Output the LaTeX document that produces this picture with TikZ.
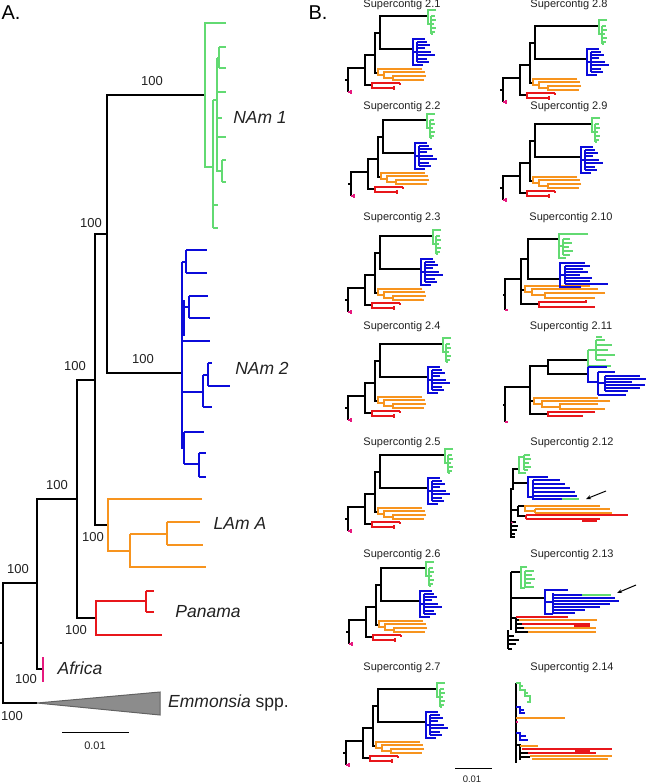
\documentclass[tikz,border=0pt]{standalone}
\usepackage{fontspec}
\setmainfont{Liberation Sans}
\usetikzlibrary{arrows.meta}
\definecolor{cgreen}{HTML}{62DA72}
\definecolor{cblue}{HTML}{0B0BDA}
\definecolor{corange}{HTML}{F7941E}
\definecolor{cred}{HTML}{E8161B}
\definecolor{cpink}{HTML}{E6197E}
\definecolor{ctri}{HTML}{8C8C8C}
\definecolor{ctxt}{HTML}{222222}
\tikzset{
 ak/.style={draw=black,line width=2pt},
 ag/.style={draw=cgreen,line width=1.8pt},
 ab/.style={draw=cblue,line width=1.8pt},
 ao/.style={draw=corange,line width=1.8pt},
 ar/.style={draw=cred,line width=1.8pt},
 ap/.style={draw=cpink,line width=1.8pt},
 sk/.style={draw=black,line width=1.2pt},
 sg/.style={draw=cgreen,line width=1.1pt},
 sb/.style={draw=cblue,line width=1.1pt},
 so/.style={draw=corange,line width=1.1pt},
 sr/.style={draw=cred,line width=1.1pt},
 spk/.style={draw=cpink,line width=1.1pt},
 bs/.style={inner sep=0pt,text=ctxt,font=\fontsize{13}{13}\selectfont},
 clade/.style={inner sep=0pt,text=ctxt,font=\fontsize{17.5}{17.5}\selectfont\itshape},
 ttl/.style={inner sep=0pt,text=ctxt,font=\fontsize{11}{11}\selectfont},
 panel/.style={inner sep=0pt,text=black,font=\fontsize{20}{20}\selectfont},
 arr/.style={draw=black,line width=1pt,-{Stealth[length=5pt,width=4pt]}},
}
\newcommand{\stree}[4]{%
\begin{scope}[shift={(#1,#2)}]
\draw[sk] (-3,12)--(0,12);
\draw[sk] (17,0)--(0,0)--(0,24);
\draw[spk] (0,24)--(3,24) (3,22)--(3,26);
\draw[sk] (27,-13)--(17,-13)--(17,17)--(24,17);
\draw[sk] (32,-35)--(27,-35)--(27,5)--(30,5);
\draw[sk] (#4,-19)--(32,-19)--(32,-52)--(#3,-52);
\draw[sr] (52,15)--(24,15)--(24,20)--(46,20) (46,18)--(46,22) (52,15)--(52,17);
\draw[so] (74,1)--(30,1)--(30,7)--(36,7) (77,4)--(36,4)--(36,10)--(45,10) (78,8)--(45,8)--(45,12)--(76,12);
\draw[sg] (#3+8,-58)--(#3,-58)--(#3,-44)--(#3+3,-44) (#3+3,-52)--(#3+3,-34);
\foreach \yy/\ll in {-52/7,-48/8,-44/6,-40/8,-36/7,-34/5} \draw[sg] (#3+3,\yy)--(#3+\ll,\yy);
\draw[sb] (#4+12,-29)--(#4,-29)--(#4,-3)--(#4+10,-3) (#4,-16)--(#4+4,-16) (#4+4,-26)--(#4+4,-6);
\foreach \yy/\ll in {-26/14,-23/17,-20/12,-16/18,-13/22,-9/14,-6/16} \draw[sb] (#4+4,\yy)--(#4+\ll,\yy);
\end{scope}}
\begin{document}
\begin{tikzpicture}[x=1pt,y=-1pt]
\useasboundingbox[fill=white] (0,0) rectangle (647,783);
% ---------------- Panel A ----------------
\node[panel] (lA) at (11,13) {A.};
\node[panel] (lB) at (318,13) {B.};
% black backbone
\draw[ak] (0,643)--(3,643);
\draw[ak] (37,703)--(3,703)--(3,583)--(37,583);
\draw[ak] (77,499)--(37,499)--(37,669)--(43,669);
\draw[ak] (95,380)--(77,380)--(77,618)--(96,618);
\draw[ak] (107,234)--(95,234)--(95,525)--(108,525);
\draw[ak] (205,95)--(107,95)--(107,373)--(182,373);
% Africa
\draw[ap] (43,657)--(43,682);
% Emmonsia
\draw[draw=ctri!70!black,fill=ctri,line width=1pt] (37,703)--(160,692)--(160,715)--cycle;
% NAm1 green
\draw[ag] (226,23)--(205,23)--(205,167)--(213,167);
\draw[ag] (213,100)--(213,228);
\draw[ag] (213,205)--(218,205) (213,228)--(218,228);
\draw[ag] (213,100)--(217,100) (217,58)--(217,171)--(222,171);
\draw[ag] (217,58)--(219,58) (219,47)--(219,68) (219,47)--(226,47) (219,68)--(226,68);
\draw[ag] (217,92)--(226,92) (217,137)--(226,137) (217,118)--(222,118);
\draw[ag] (222,160)--(222,182) (222,160)--(226,160) (222,182)--(226,182);
% NAm2 blue
\draw[ab] (182,262)--(182,448)--(184,448);
\draw[draw=cblue,line width=4pt] (183,300)--(183,336);
\draw[ab] (182,262)--(186,262) (186,250)--(186,273) (186,250)--(207,250) (186,273)--(207,273);
\draw[ab] (182,307)--(189,307) (189,296)--(189,318) (189,296)--(208,296) (189,318)--(210,318);
\draw[ab] (182,341)--(210,341);
\draw[ab] (182,392)--(203,392) (203,375)--(203,407) (203,375)--(208,375) (208,363)--(208,386);
\draw[ab] (208,363)--(212,363) (208,386)--(230,386) (203,407)--(212,407);
\draw[ab] (184,432)--(184,464) (184,432)--(204,432) (184,464)--(199,464) (199,453)--(199,477);
\draw[ab] (199,453)--(206,453) (199,477)--(206,477);
% LAm A orange
\draw[ao] (202,499)--(108,499)--(108,551)--(130,551);
\draw[ao] (130,534)--(130,567)--(206,567) (130,534)--(167,534);
\draw[ao] (167,522)--(167,545) (167,522)--(200,522) (167,545)--(203,545);
% Panama red
\draw[ar] (146,601)--(96,601)--(96,635)--(162,635);
\draw[ar] (146,591)--(146,612) (146,591)--(154,591) (146,612)--(154,612);
% labels A
\node[bs] (b1) at (152,81) {100};
\node[bs] (b2) at (143,359) {100};
\node[bs] (b3) at (91,223) {100};
\node[bs] (b4) at (75,366) {100};
\node[bs] (b5) at (93,537) {100};
\node[bs] (b6) at (57,485) {100};
\node[bs] (b7) at (76,630) {100};
\node[bs] (b8) at (18,569) {100};
\node[bs] (b9) at (26,679) {100};
\node[bs] (b10) at (12,716) {100};
\node[clade] (c1) at (260,117) {NAm 1};
\node[clade] (c2) at (262,368) {NAm 2};
\node[clade] (c3) at (240,523) {LAm A};
\node[clade] (c4) at (208,612) {Panama};
\node[clade] (c5) at (80,668) {Africa};
\node[clade,anchor=west] (c6) at (168,703) {Emmonsia\upshape\ spp.};
\draw[black,line width=1pt] (62,732)--(129,732);
\node[ttl] (sA) at (95,746) {0.01};
% ---------------- Panel B ----------------
\node[ttl] (t1) at (402,5) {Supercontig 2.1};
\node[ttl] (t2) at (402,107) {Supercontig 2.2};
\node[ttl] (t3) at (402,218) {Supercontig 2.3};
\node[ttl] (t4) at (402,327) {Supercontig 2.4};
\node[ttl] (t5) at (402,443) {Supercontig 2.5};
\node[ttl] (t6) at (402,555) {Supercontig 2.6};
\node[ttl] (t7) at (402,668) {Supercontig 2.7};
\node[ttl] (t8) at (569,5) {Supercontig 2.8};
\node[ttl] (t9) at (569,107) {Supercontig 2.9};
\node[ttl] (t10) at (571,218) {Supercontig 2.10};
\node[ttl] (t11) at (571,327) {Supercontig 2.11};
\node[ttl] (t12) at (572,443) {Supercontig 2.12};
\node[ttl] (t13) at (572,555) {Supercontig 2.13};
\node[ttl] (t14) at (572,668) {Supercontig 2.14};
\stree{348}{68}{80}{65}
\stree{351}{172}{76}{64}
\stree{348}{288}{85}{73}
\stree{348}{396}{95}{80}
\stree{348}{507}{97}{80}
\stree{349}{620}{77}{71}
\stree{346}{741}{91}{80}
\stree{503}{78}{96}{84}
\stree{503}{176}{89}{78}
% 2.10
\draw[sk] (503,295)--(505,295) (521,279)--(505,279)--(505,310);
\draw[spk] (505,310)--(508,310);
\draw[sk] (528,259)--(521,259)--(521,304)--(539,304) (521,290)--(525,290);
\draw[sk] (559,239)--(528,239)--(528,279)--(560,279);
\draw[so] (590,286)--(525,286)--(525,292)--(532,292) (598,289)--(532,289)--(532,295)--(545,295) (605,293)--(545,293)--(545,298)--(595,298);
\draw[sr] (586,302)--(539,302)--(539,307)--(595,307) (586,300)--(586,303);
\draw[sg] (588,234)--(559,234)--(559,258)--(566,258) (559,246)--(563,246) (563,239)--(563,255);
\foreach \yy/\ll in {239/570,243/572,247/569,251/573,255/570} \draw[sg] (563,\yy)--(\ll,\yy);
\draw[sb] (585,263)--(560,263)--(560,287)--(581,287) (560,275)--(565,275) (565,266)--(565,284);
\foreach \yy/\ll in {266/590,269/583,272/588,275/580,278/592,281/590,284/608} \draw[sb] (565,\yy)--(\ll,\yy);
% 2.11
\draw[sk] (503,405)--(505,405) (530,387)--(505,387)--(505,422);
\draw[spk] (505,422)--(508,422);
\draw[sk] (548,366)--(530,366)--(530,414)--(548,414) (530,401)--(534,401);
\draw[sk] (588,360)--(548,360)--(548,374)--(588,374);
\draw[so] (598,398)--(534,398)--(534,404)--(542,404) (610,401)--(542,401)--(542,407)--(560,407) (598,404)--(560,404)--(560,409)--(605,409);
\draw[sr] (595,412)--(548,412)--(548,416)--(583,416);
\draw[sg] (588,350)--(588,366)--(611,366) (588,350)--(596,350) (596,340)--(596,360);
\foreach \yy/\ll in {337/602,340/605,345/612,350/608,355/615,360/606} \draw[sg] (596,\yy)--(\ll,\yy);
\draw[sb] (588,367)--(588,382)--(598,382) (588,367)--(607,367) (598,372)--(598,395) (598,372)--(615,372) (598,395)--(626,395) (598,383)--(605,383) (605,376)--(605,391);
\foreach \yy/\ll in {376/640,379/646,382/632,385/645,388/640,391/628} \draw[sb] (605,\yy)--(\ll,\yy);
% 2.12
\draw[sk] (519,469)--(513,469)--(513,490) (511,488)--(511,537)--(515,537);
\draw[sk] (513,483)--(528,483) (511,510)--(518,510) (518,506)--(518,516)--(526,516) (518,506)--(525,506);
\foreach \yy/\ll in {522/516,526/518,530/517,534/515} \draw[sk] (511,\yy)--(\ll,\yy);
\draw[spk] (511,522)--(513,523);
\draw[sg] (526,473)--(519,473)--(519,457)--(524,457) (524,455)--(524,470);
\foreach \yy/\ll in {455/530,459/531,463/529,467/531,470/528} \draw[sg] (524,\yy)--(\ll,\yy);
\draw[sb] (548,477)--(528,477)--(528,497)--(533,497) (533,480)--(533,499)--(562,499);
\foreach \yy/\ll in {480/560,484/565,488/570,492/575,496/577} \draw[sb] (533,\yy)--(\ll,\yy);
\draw[sg] (562,499)--(579,499);
\draw[so] (600,506)--(525,506)--(525,511)--(535,511) (535,509)--(535,513) (535,509)--(610,509) (535,513)--(612,513);
\draw[sr] (526,515)--(526,519) (526,515)--(628,515) (526,519)--(600,519) (583,519)--(583,521)--(597,521);
\coordinate (a12s) at (606,491);
\coordinate (a12e) at (586,499);
\draw[arr] (a12s)--(a12e);
% 2.13
\draw[sk] (511,572)--(511,630) (508,630)--(508,649);
\draw[sk] (511,572)--(521,572) (511,598)--(545,598);
\draw[line width=2.5pt] (511,588)--(511,612);
\foreach \yy/\ll in {636/514,640/519,644/516,649/512} \draw[sk] (508,\yy)--(\ll,\yy);
\draw[sg] (527,567)--(521,567)--(521,588)--(525,588) (525,571)--(525,588);
\foreach \yy/\ll in {571/534,575/532,579/535,583/531,587/534} \draw[sg] (525,\yy)--(\ll,\yy);
\draw[sb] (568,590)--(545,590)--(545,614)--(553,614) (545,602)--(553,602) (553,593)--(553,614);
\foreach \yy/\ll in {598/615,601/619,604/610,607/600,610/585,613/575} \draw[sb] (553,\yy)--(\ll,\yy);
\draw[sb] (553,595)--(582,595);
\draw[sg] (582,595)--(611,595);
\draw[sk] (511,618)--(516,618) (516,617)--(516,632)--(528,632) (516,620)--(519,620) (516,624)--(522,624) (516,628)--(524,628);
\draw[sr] (516,617)--(568,617) (522,624)--(590,624) (575,623)--(575,626)--(590,626);
\draw[so] (519,620)--(597,620) (524,628)--(596,628) (528,632)--(596,632);
\coordinate (a13s) at (636,585);
\coordinate (a13e) at (617,593);
\draw[arr] (a13s)--(a13e);
% 2.14
\draw[sk] (516,683)--(516,763);
\draw[sg] (516,683)--(520,683)--(520,690)--(525,690)--(525,696)--(530,696)--(530,702)--(527,702) (520,686)--(523,686) (525,693)--(528,693);
\draw[sb] (516,707)--(520,707)--(520,713)--(525,713) (520,710)--(524,710);
\draw[so] (516,718)--(565,718);
\draw[spk] (516,722)--(518,722);
\draw[sb] (516,733)--(520,733)--(520,740)--(528,740) (520,736)--(526,736);
\draw[sk] (516,745)--(520,745)--(520,760) (520,753)--(528,753) (520,757)--(530,757);
\draw[so] (520,746)--(538,746) (530,756)--(612,756) (532,759)--(608,759);
\draw[sr] (522,749)--(612,749) (528,753)--(596,753) (575,751)--(590,751);
% scale B
\draw[black,line width=1pt] (455,768)--(492,768);
\node[ttl,font=\fontsize{9.5}{9.5}\selectfont] (sB) at (472,779) {0.01};
\end{tikzpicture}
\end{document}
